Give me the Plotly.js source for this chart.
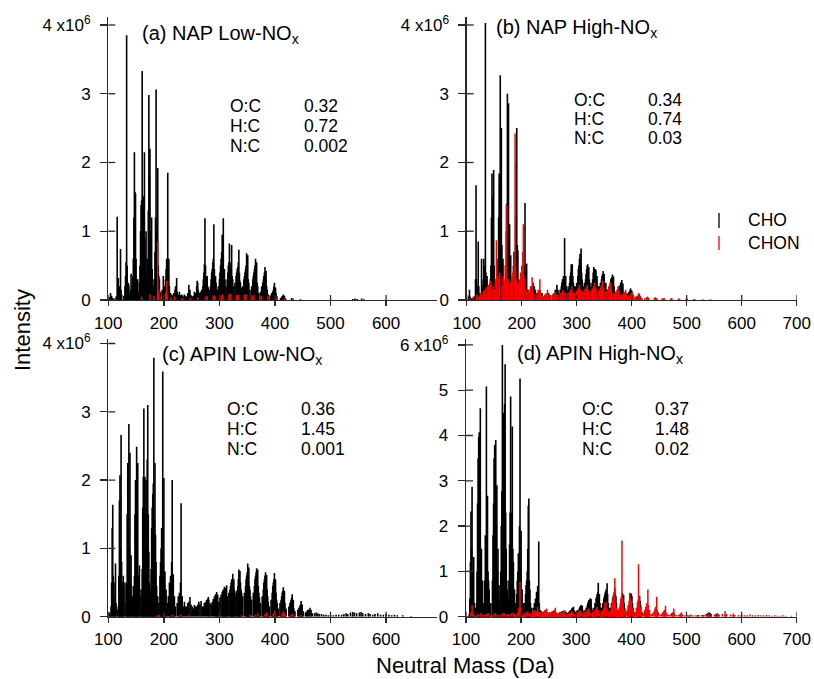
<!DOCTYPE html>
<html>
<head>
<meta charset="utf-8">
<script src="https://cdn.plot.ly/plotly-3.0.1.min.js"></script>
<style>html,body{margin:0;padding:0;background:#fff;}#chart{width:814px;height:679px;}</style>
</head>
<body>
<div id="chart"></div>
<script>
// ---------- DATA (masses in Da, intensities in units of 10^6) ----------
const panelTitles = ["(a) NAP Low-NO<sub>x</sub>", "(b) NAP High-NO<sub>x</sub>", "(c) APIN Low-NO<sub>x</sub>", "(d) APIN High-NO<sub>x</sub>"];
const ratioLabels = ["O:C", "H:C", "N:C"];
const ratioA = ["0.32", "0.72", "0.002"];
const ratioB = ["0.34", "0.74", "0.03"];
const ratioC = ["0.36", "1.45", "0.001"];
const ratioD = ["0.37", "1.48", "0.02"];
const seriesNames = ["CHO", "CHON"];
const xTicksShort = [100, 200, 300, 400, 500, 600];
const xTicksLong = [100, 200, 300, 400, 500, 600, 700];
const yTicks4 = [0, 1, 2, 3, 4];
const yTicks6 = [0, 1, 2, 3, 4, 5, 6];
const yText4 = ["0", "1", "2", "3", "4 x10<sup>6</sup>"];
const yText6 = ["0", "1", "2", "3", "4", "5", "6 x10<sup>6</sup>"];

// (a) NAP Low-NOx
const aChoM = [102,104,106,108,110,114,116,117,118,119,120,122,123,124,128,130,131,132,133,134,135,136,137,138,140,141,143,144,145,146,147,148,149,150,151,152,153,154,156,157,158,159,160,161,162,163,164,165,166,167,168,169,170,171,172,173,174,175,176,177,178,179,180,181,183,184,185,186,187,188,189,190,191,192,194,197,199,201,203,204,205,206,207,208,209,210,212,214,216,218,220,221,222,223,224,226,228,230,232,233,235,237,239,241,243,245,246,247,249,251,253,255,257,259,260,261,262,264,266,268,270,271,272,273,274,275,276,277,278,279,280,282,284,285,286,287,288,289,290,291,292,293,294,296,298,300,301,302,303,304,305,306,307,308,309,310,312,314,315,316,317,318,319,320,321,322,323,324,326,328,330,331,332,333,334,335,336,337,338,340,342,344,345,346,347,348,349,350,351,352,353,355,358,360,361,362,363,364,365,366,367,368,369,371,374,376,378,379,380,381,382,383,384,385,386,388,392,394,396,397,398,399,400,401,402,404,410,412,414,415,416,417,419,430,432,446,540,544,548,556,560];
const aChoI = [0.04,0.1,0.06,0.03,0.02,0.05,1.21,0.3,0.32,0.15,0.2,0.74,0.15,0.08,0.06,0.2,0.35,0.55,3.85,0.5,0.22,0.25,0.22,0.1,0.15,0.38,0.2,0.35,0.6,1.2,2.15,1.57,1.55,0.6,0.3,0.25,0.3,0.12,0.25,0.5,1.0,1.38,1.45,3.33,1.52,1.5,1.0,2.15,0.9,0.6,1.0,0.35,0.3,0.6,1.3,2.98,1.8,2.2,1.0,0.9,1.2,0.45,0.3,0.2,0.3,0.7,1.2,3.06,1.0,0.8,1.92,0.5,0.35,0.3,0.12,0.15,0.35,0.2,0.3,0.45,0.6,0.4,1.85,0.45,0.6,0.2,0.1,0.08,0.07,0.1,0.15,0.2,0.12,0.32,0.12,0.08,0.12,0.07,0.08,0.07,0.05,0.08,0.06,0.05,0.1,0.22,0.1,0.15,0.07,0.05,0.06,0.12,0.1,0.2,0.28,0.25,0.15,0.1,0.12,0.15,0.2,0.3,0.4,0.52,1.19,0.5,0.35,0.3,0.35,0.2,0.18,0.15,0.2,0.3,0.4,0.45,0.55,0.6,1.1,0.45,0.35,0.35,0.25,0.15,0.2,0.3,0.4,0.5,0.6,0.7,0.95,0.6,1.19,0.45,0.45,0.3,0.2,0.3,0.4,0.5,0.55,0.82,0.5,0.45,0.55,0.8,0.35,0.3,0.2,0.25,0.35,0.4,0.45,0.48,0.55,0.73,0.4,0.28,0.25,0.18,0.2,0.3,0.35,0.4,0.45,0.5,0.68,0.45,0.65,0.3,0.25,0.15,0.2,0.3,0.35,0.4,0.45,0.5,0.6,0.4,0.55,0.25,0.2,0.1,0.12,0.2,0.25,0.3,0.35,0.4,0.48,0.35,0.42,0.2,0.15,0.08,0.07,0.1,0.12,0.15,0.2,0.25,0.15,0.18,0.1,0.05,0.03,0.05,0.06,0.08,0.05,0.06,0.03,0.03,0.02,0.01,0.015,0.02,0.015,0.02,0.01];
const aChonM = [160,175,182,189,190,191,195,203,205,206,213,219,233,247,261,275,278,289,292,303,306,317,320,331,334,345,348,359,362,373,376,387,390,401,404,418,432];
const aChonI = [0.05,0.08,0.06,0.85,0.15,0.1,0.05,0.1,0.28,0.08,0.04,0.05,0.03,0.03,0.04,0.05,0.06,0.06,0.07,0.07,0.08,0.08,0.09,0.07,0.08,0.08,0.08,0.07,0.07,0.06,0.06,0.05,0.05,0.04,0.04,0.03,0.02];

// (b) NAP High-NOx
const bChoM = [104,105,106,108,110,114,116,117,118,119,120,121,122,124,127,128,130,131,132,133,134,135,136,137,139,141,143,144,145,146,147,148,149,150,151,153,156,157,158,159,160,161,162,163,164,165,166,167,169,171,172,173,174,175,176,177,178,179,180,181,184,185,186,187,189,190,191,192,193,194,195,199,201,203,205,206,207,208,209,211,214,216,218,219,221,223,225,228,231,233,235,237,239,242,245,247,249,252,256,259,261,262,264,265,266,268,270,272,273,274,275,276,277,278,279,280,282,284,286,287,288,289,290,291,292,293,294,296,298,300,302,303,304,305,306,307,308,309,310,312,314,316,317,318,319,320,321,322,323,324,326,328,329,330,331,332,333,334,335,336,337,339,341,343,345,346,347,348,349,350,351,353,355,357,359,361,362,363,364,365,366,367,368,370,373,375,377,379,380,381,382,383,384,385,387,391,393,395,397,398,399,400,402,408,410,412,414,416,418,428,430,445,500];
const bChoI = [0.05,0.15,0.05,0.03,0.03,0.05,0.3,1.67,0.3,0.15,0.2,0.85,0.2,0.1,0.6,0.2,0.3,0.6,0.35,0.5,4.03,0.4,0.3,0.35,0.15,0.2,0.3,0.5,1.2,1.84,1.5,1.0,1.89,0.5,0.3,0.2,0.3,0.6,1.2,1.84,1.65,3.27,1.65,2.5,0.8,0.5,0.6,0.3,0.2,0.5,1.0,1.4,3.0,1.3,2.86,0.7,1.1,0.4,0.65,0.2,0.3,0.5,0.7,0.6,1.2,2.0,2.5,0.8,0.72,0.3,0.2,0.2,0.3,0.4,0.5,1.41,0.4,0.3,0.53,0.15,0.1,0.15,0.2,0.15,0.25,0.2,0.15,0.1,0.12,0.15,0.1,0.1,0.05,0.07,0.1,0.08,0.1,0.07,0.08,0.1,0.15,0.12,0.22,0.1,0.15,0.1,0.15,0.2,0.25,0.3,0.3,0.35,0.3,0.9,0.3,0.35,0.2,0.15,0.2,0.25,0.35,0.4,0.52,0.45,0.52,0.35,0.25,0.2,0.2,0.25,0.35,0.45,0.5,0.6,0.67,0.55,0.75,0.4,0.3,0.2,0.25,0.3,0.38,0.45,0.5,0.52,0.4,0.48,0.3,0.25,0.2,0.25,0.3,0.4,0.48,0.45,0.38,0.45,0.43,0.3,0.35,0.2,0.2,0.25,0.3,0.35,0.38,0.42,0.3,0.38,0.25,0.25,0.15,0.15,0.2,0.25,0.3,0.32,0.33,0.37,0.3,0.34,0.2,0.12,0.1,0.15,0.2,0.22,0.25,0.26,0.29,0.2,0.24,0.12,0.08,0.06,0.1,0.12,0.15,0.17,0.12,0.14,0.06,0.04,0.05,0.07,0.08,0.05,0.03,0.02,0.03,0.02,0.01];
const bChonM = [106,112,118,122,125,128,130,132,135,138,140,142,144,146,148,150,152,154,155,157,159,160,164,166,168,170,172,173,175,177,180,182,184,186,188,189,191,194,196,198,200,202,203,204,206,208,210,213,216,219,220,222,226,230,233,234,238,242,245,247,249,252,256,259,261,263,266,270,273,275,277,280,284,287,289,291,293,296,299,301,303,305,307,310,313,315,317,319,321,324,327,329,331,333,335,338,341,343,345,347,349,352,355,357,359,361,363,366,369,371,373,375,377,380,383,385,387,389,391,394,397,399,401,403,406,410,413,415,418,424,427,429,431,441,443,445,455,457,459,471,473,485,487,499,501,513,515,529,543];
const bChonI = [0.03,0.05,0.08,0.05,0.1,0.08,0.12,0.15,0.18,0.2,0.22,0.25,0.28,0.15,0.2,0.15,0.3,0.87,0.2,0.35,0.3,0.4,0.2,0.35,0.3,0.5,1.38,0.4,0.3,0.3,0.25,0.35,0.4,0.6,2.42,0.5,0.3,0.25,0.3,0.4,0.5,0.7,1.1,0.35,0.3,0.15,0.12,0.15,0.2,0.33,0.15,0.1,0.08,0.15,0.3,0.12,0.06,0.08,0.1,0.15,0.07,0.06,0.08,0.1,0.12,0.08,0.08,0.1,0.12,0.15,0.12,0.1,0.1,0.12,0.15,0.2,0.12,0.1,0.12,0.15,0.18,0.22,0.15,0.12,0.13,0.16,0.18,0.22,0.15,0.12,0.14,0.17,0.2,0.25,0.17,0.13,0.15,0.18,0.22,0.28,0.18,0.12,0.13,0.16,0.2,0.25,0.17,0.1,0.1,0.12,0.15,0.2,0.14,0.08,0.08,0.1,0.12,0.15,0.1,0.06,0.08,0.1,0.12,0.08,0.05,0.06,0.1,0.06,0.03,0.03,0.04,0.05,0.03,0.03,0.04,0.03,0.02,0.03,0.03,0.02,0.03,0.02,0.02,0.02,0.015,0.015,0.01,0.01,0.01];

// (c) APIN Low-NOx
const cChoM = [101,103,105,106,107,108,109,110,111,112,113,114,116,118,119,120,121,122,123,124,125,126,127,128,130,132,133,134,135,136,137,138,139,140,141,142,143,145,146,147,148,149,150,151,152,153,154,155,156,157,159,160,161,162,163,164,165,166,167,168,169,170,171,172,173,174,175,176,177,178,179,180,181,182,183,184,185,186,187,189,191,193,194,195,196,197,198,199,200,201,202,203,204,206,208,210,211,212,213,214,215,216,217,218,219,221,224,226,228,229,230,231,232,233,235,237,239,241,243,245,247,249,251,253,255,257,259,261,263,265,267,269,271,273,275,277,279,280,281,283,285,287,289,291,293,294,295,296,297,299,301,303,305,306,307,308,309,310,311,312,313,314,316,317,319,320,321,322,323,324,325,326,327,328,330,331,333,334,335,336,337,338,339,340,342,345,347,348,349,350,351,352,353,354,355,356,358,361,363,364,365,366,367,368,369,370,371,372,374,377,379,380,381,382,383,384,385,386,387,388,390,393,395,396,397,398,399,400,401,402,403,404,406,409,411,412,413,414,415,416,417,418,420,425,427,428,429,430,431,432,433,434,436,441,443,445,446,447,448,449,451,455,457,459,461,463,465,467,471,474,477,480,484,488,492,496,500,505,510,515,520,524,528,531,536,540,543,547,552,555,558,563,568,571,576,580,585,590,595,600,605,610,615,620,630,645];
const cChoI = [0.07,0.05,0.15,0.5,1.3,1.64,0.6,0.3,0.2,0.5,0.78,0.2,0.1,0.15,0.6,1.7,2.07,1.0,2.66,0.8,0.5,0.3,0.6,0.4,0.5,0.2,0.5,1.5,2.25,1.2,2.82,1.0,2.4,0.5,0.9,0.3,0.3,0.45,0.2,0.6,1.5,2.0,1.6,2.49,1.2,2.25,0.6,0.6,0.75,0.3,0.4,0.2,0.7,1.6,2.05,3.05,2.0,2.05,1.5,2.0,1.2,2.3,3.1,1.5,0.95,0.5,0.4,0.3,0.7,1.3,1.6,1.8,1.95,3.79,1.4,2.25,1.2,0.8,0.45,0.3,0.2,0.6,0.8,1.0,1.3,1.0,3.59,0.8,2.03,0.5,0.66,0.3,0.4,0.2,0.3,0.5,0.4,0.6,0.5,0.8,2.0,0.5,0.62,0.3,0.3,0.15,0.2,0.3,0.35,0.3,0.5,1.66,0.3,0.3,0.15,0.22,0.15,0.15,0.2,0.22,0.29,0.18,0.15,0.12,0.17,0.15,0.15,0.18,0.22,0.18,0.23,0.15,0.15,0.2,0.22,0.25,0.26,0.29,0.25,0.2,0.18,0.22,0.26,0.3,0.33,0.32,0.36,0.3,0.32,0.22,0.28,0.32,0.36,0.38,0.4,0.35,0.44,0.4,0.42,0.38,0.46,0.3,0.25,0.35,0.4,0.45,0.5,0.55,0.5,0.63,0.5,0.55,0.4,0.35,0.3,0.38,0.45,0.55,0.69,0.55,0.67,0.5,0.4,0.35,0.3,0.35,0.45,0.55,0.6,0.65,0.78,0.6,0.72,0.45,0.4,0.3,0.25,0.35,0.45,0.55,0.6,0.65,0.71,0.6,0.69,0.45,0.35,0.28,0.2,0.3,0.4,0.5,0.55,0.6,0.65,0.55,0.61,0.4,0.3,0.22,0.15,0.25,0.35,0.45,0.5,0.55,0.64,0.5,0.55,0.35,0.25,0.2,0.12,0.2,0.25,0.3,0.35,0.38,0.43,0.3,0.38,0.2,0.12,0.15,0.2,0.22,0.25,0.28,0.33,0.2,0.25,0.12,0.08,0.1,0.13,0.16,0.18,0.23,0.15,0.18,0.08,0.06,0.08,0.1,0.1,0.13,0.1,0.05,0.05,0.06,0.05,0.04,0.04,0.03,0.03,0.02,0.02,0.02,0.03,0.03,0.03,0.04,0.05,0.04,0.06,0.07,0.06,0.05,0.06,0.07,0.05,0.04,0.05,0.04,0.03,0.04,0.05,0.03,0.03,0.04,0.03,0.02,0.03,0.02,0.02,0.01];
const cChonM = [190,200,215,230,245,340,355,365,369,382,385,397,399,401,413,415,417,429,431,447,463];
const cChonI = [0.03,0.04,0.03,0.03,0.02,0.02,0.03,0.03,0.05,0.04,0.06,0.05,0.09,0.06,0.05,0.08,0.05,0.03,0.04,0.02,0.015];

// (d) APIN High-NOx
const dChoM = [106,107,108,109,110,111,112,113,114,115,117,119,120,121,122,123,124,125,126,127,128,129,130,131,133,134,135,136,137,138,139,140,141,142,143,145,148,149,150,151,152,153,154,155,156,157,158,159,160,162,163,164,165,166,167,168,169,170,171,172,173,174,175,177,178,179,180,181,182,183,184,185,186,187,188,190,192,193,194,195,196,197,198,199,200,201,202,204,207,208,209,210,211,212,213,214,215,216,217,219,222,224,226,228,229,230,231,232,233,235,237,240,242,244,246,248,250,252,254,256,258,260,262,264,266,268,270,272,274,276,278,280,282,284,286,288,290,292,293,294,295,296,298,300,302,304,306,307,308,309,310,311,312,314,316,318,320,321,322,323,324,325,326,327,328,330,332,334,336,337,338,339,340,341,342,343,344,346,348,350,351,352,353,354,355,356,357,358,360,362,364,366,367,368,369,370,371,372,373,375,378,380,382,383,384,385,386,387,388,390,394,396,397,398,399,400,401,402,403,405,409,411,412,413,414,415,416,417,419,425,427,429,430,431,433,445,447,460,476,490,505,520,530,536,539,541,543,545,552,555,558,570,585,600];
const dChoI = [0.06,0.4,1.2,2.32,1.5,2.87,1.0,0.6,1.32,0.3,0.2,0.3,1.0,2.5,3.5,3.97,4.07,2.0,4.6,1.2,1.5,0.5,0.8,0.3,0.3,0.8,1.8,1.77,5.08,2.0,2.67,1.0,0.8,0.6,0.3,0.3,0.8,1.8,2.5,3.5,3.79,3.2,3.9,2.0,2.9,1.0,1.5,0.5,0.7,0.3,1.0,2.0,2.77,6.0,3.0,4.5,2.8,4.7,5.57,2.3,1.5,0.8,0.6,0.4,0.8,1.6,2.3,4.86,2.2,2.3,4.2,1.5,1.2,0.5,0.6,0.3,0.5,0.8,1.0,1.4,1.21,2.0,5.26,1.0,1.9,0.5,0.6,0.3,0.3,0.5,0.7,0.8,1.0,1.5,2.45,2.61,0.8,0.6,0.3,0.2,0.2,0.3,0.4,0.55,0.4,0.68,0.4,1.66,0.3,0.15,0.12,0.1,0.12,0.15,0.14,0.1,0.08,0.1,0.08,0.1,0.12,0.12,0.1,0.08,0.07,0.08,0.1,0.1,0.12,0.12,0.1,0.12,0.1,0.08,0.1,0.13,0.15,0.18,0.2,0.18,0.22,0.15,0.1,0.12,0.14,0.16,0.2,0.22,0.24,0.26,0.22,0.24,0.15,0.1,0.15,0.2,0.25,0.3,0.33,0.37,0.35,0.41,0.3,0.39,0.2,0.15,0.2,0.3,0.4,0.45,0.5,0.55,0.75,0.5,0.5,0.3,0.2,0.2,0.3,0.4,0.45,0.5,0.55,0.6,0.5,0.74,0.5,0.3,0.2,0.2,0.3,0.4,0.45,0.5,0.55,0.63,0.5,0.45,0.3,0.15,0.15,0.25,0.35,0.4,0.52,0.45,0.48,0.3,0.2,0.1,0.12,0.25,0.35,0.45,0.52,0.5,0.45,0.3,0.2,0.1,0.1,0.2,0.28,0.35,0.4,0.46,0.35,0.25,0.1,0.05,0.08,0.12,0.15,0.1,0.05,0.04,0.05,0.03,0.02,0.02,0.02,0.03,0.04,0.06,0.08,0.1,0.08,0.06,0.05,0.06,0.05,0.04,0.03,0.02];
const dChonM = [109,111,112,114,118,121,124,127,130,134,137,140,143,146,150,153,156,160,164,167,170,174,177,180,183,186,188,191,194,196,198,199,201,204,207,210,212,214,217,220,222,224,226,228,230,232,234,236,238,240,242,244,246,248,250,252,254,256,258,260,262,264,266,268,270,272,274,276,278,280,283,286,288,290,292,294,297,300,302,304,306,308,311,314,316,318,320,322,324,327,330,332,334,336,338,340,343,346,348,350,352,354,356,359,362,364,366,367,368,369,370,371,373,376,378,380,381,382,383,384,385,386,388,392,394,396,397,398,399,400,402,404,407,409,411,412,413,414,415,417,419,422,424,426,428,430,431,433,436,439,441,443,444,446,447,449,452,455,457,459,460,462,463,465,468,471,473,475,477,478,481,485,487,489,491,493,497,501,505,508,512,517,522,527,532,537,541,545,551,556,559,565,570,573,580,585,588,595,600,605,610,615,620,625,630,635,640,645,650,655,660,665,670,675,680,690];
const dChonI = [0.1,0.26,0.1,0.05,0.03,0.06,0.05,0.08,0.04,0.05,0.06,0.08,0.05,0.04,0.06,0.08,0.05,0.04,0.06,0.08,0.07,0.05,0.06,0.05,0.08,0.1,0.06,0.05,0.1,0.2,0.77,0.2,0.1,0.06,0.08,0.1,0.12,0.08,0.06,0.1,0.12,0.15,0.1,0.12,0.22,0.1,0.08,0.12,0.1,0.1,0.12,0.15,0.18,0.1,0.08,0.1,0.09,0.12,0.1,0.15,0.2,0.1,0.07,0.08,0.07,0.08,0.1,0.12,0.15,0.08,0.06,0.07,0.08,0.1,0.12,0.1,0.06,0.08,0.1,0.12,0.15,0.12,0.08,0.08,0.1,0.12,0.15,0.18,0.12,0.08,0.1,0.13,0.15,0.18,0.22,0.15,0.1,0.12,0.15,0.2,0.3,0.33,0.2,0.12,0.15,0.25,0.35,0.4,0.5,0.45,0.85,0.3,0.2,0.15,0.2,0.3,0.4,0.45,1.68,0.4,0.35,0.2,0.12,0.15,0.25,0.35,0.53,0.4,0.3,0.35,0.2,0.12,0.1,0.2,0.3,0.35,1.16,0.45,0.3,0.2,0.1,0.08,0.15,0.22,0.3,0.6,0.25,0.15,0.06,0.08,0.12,0.18,0.22,0.44,0.15,0.1,0.05,0.06,0.1,0.12,0.15,0.24,0.1,0.06,0.04,0.05,0.08,0.1,0.18,0.08,0.04,0.04,0.05,0.07,0.1,0.05,0.03,0.04,0.04,0.05,0.03,0.03,0.04,0.03,0.04,0.05,0.08,0.05,0.05,0.08,0.05,0.06,0.12,0.06,0.05,0.07,0.04,0.04,0.05,0.03,0.03,0.05,0.03,0.03,0.04,0.03,0.03,0.04,0.03,0.02,0.03,0.02,0.02,0.03,0.02,0.02];

// ---------- RENDERING ----------
const W = 814, H = 679;
const FONT = "Liberation Sans, Arial, Helvetica, sans-serif";
const fx = px => px / W;
const fy = py => 1 - py / H;

function sticks(ms, is) {
  const x = [], y = [];
  for (let k = 0; k < ms.length; k++) { x.push(ms[k], ms[k], null); y.push(0, is[k], null); }
  return {x, y};
}

const panels = [
  {cho: [aChoM, aChoI], chon: [aChonM, aChonI], ratios: ratioA, xt: xTicksShort, yt: yTicks4, ytt: yText4,
   xd: [108.3, 437.2], xr: [100, 692], yd: [300, 17], yr: [0, 4.116],
   title: [139.5, 34], lab: [228, 301.5], rows: [106, 126, 146]},
  {cho: [bChoM, bChoI], chon: [bChonM, bChonI], ratios: ratioB, xt: xTicksLong, yt: yTicks4, ytt: yText4,
   xd: [466.7, 796.7], xr: [100, 700], yd: [300, 17], yr: [0, 4.116],
   title: [494, 29], lab: [572, 645.5], rows: [99.5, 119, 138.5]},
  {cho: [cChoM, cChoI], chon: [cChonM, cChonI], ratios: ratioC, xt: xTicksShort, yt: yTicks4, ytt: yText4,
   xd: [108.3, 437.2], xr: [100, 692], yd: [616.7, 339], yr: [0, 4.066],
   title: [160, 355.5], lab: [225, 298.5], rows: [409, 429, 449]},
  {cho: [dChoM, dChoI], chon: [dChonM, dChonI], ratios: ratioD, xt: xTicksLong, yt: yTicks6, ytt: yText6,
   xd: [466, 796.7], xr: [100, 700], yd: [616.7, 339], yr: [0, 6.13],
   title: [515, 354], lab: [580, 652.5], rows: [409, 429, 449]}
];

const traces = [], shapes = [], annotations = [];
const layout = {
  width: W, height: H, margin: {l: 0, r: 0, t: 0, b: 0},
  paper_bgcolor: "#fff", plot_bgcolor: "rgba(0,0,0,0)", showlegend: false,
  font: {family: FONT, size: 17, color: "#000"}
};
const AX = "#2a2a2a";
const XT = 5, YT = 7; // tick half-lengths (px) on each side of the axis line

panels.forEach((p, i) => {
  const n = i + 1, xs = n === 1 ? "x" : "x" + n, ys = n === 1 ? "y" : "y" + n;
  const s1 = sticks(p.cho[0], p.cho[1]);
  const s2 = sticks(p.chon[0], p.chon[1]);
  traces.push({type: "scatter", mode: "lines", x: s1.x, y: s1.y, xaxis: xs, yaxis: ys, name: seriesNames[0],
    line: {color: "#000000", width: 1.6}, hoverinfo: "skip", connectgaps: false});
  traces.push({type: "scatter", mode: "lines", x: s2.x, y: s2.y, xaxis: xs, yaxis: ys, name: seriesNames[1],
    line: {color: "#ff0000", width: 1.5}, hoverinfo: "skip", connectgaps: false});
  layout[n === 1 ? "xaxis" : "xaxis" + n] = {
    domain: [fx(p.xd[0]), fx(p.xd[1])], range: p.xr, anchor: ys,
    tickmode: "array", tickvals: p.xt, ticktext: p.xt.map(String),
    ticks: "outside", ticklen: XT, tickwidth: 1.3, tickcolor: AX,
    showline: true, linecolor: AX, linewidth: 1.3, showgrid: false, zeroline: false,
    tickfont: {family: FONT, size: 17, color: "#000"}, ticklabelstandoff: 2, fixedrange: true
  };
  layout[n === 1 ? "yaxis" : "yaxis" + n] = {
    domain: [fy(p.yd[0]), fy(p.yd[1])], range: p.yr, anchor: xs,
    tickmode: "array", tickvals: p.yt, ticktext: p.ytt,
    ticks: "outside", ticklen: YT, tickwidth: 1.3, tickcolor: AX,
    showline: true, linecolor: AX, linewidth: 1.3, showgrid: false, zeroline: false,
    tickfont: {family: FONT, size: 17, color: "#000"}, ticklabelstandoff: 6, fixedrange: true
  };
  // inside halves of the crossing tick marks
  const hpx = p.yd[0] - p.yd[1], wpx = p.xd[1] - p.xd[0];
  p.xt.forEach(v => shapes.push({type: "line", xref: xs, yref: ys + " domain", x0: v, x1: v, y0: 0, y1: XT / hpx,
    line: {color: AX, width: 1.3}}));
  p.yt.forEach(v => shapes.push({type: "line", xref: xs + " domain", yref: ys, x0: 0, x1: YT / wpx, y0: v, y1: v,
    line: {color: AX, width: 1.3}}));
  // panel title
  annotations.push({xref: "paper", yref: "paper", x: fx(p.title[0]), y: fy(p.title[1]), xanchor: "left", yanchor: "middle",
    text: panelTitles[i], showarrow: false, font: {family: FONT, size: 20, color: "#000"}});
  // ratio block
  ratioLabels.forEach((lab, r) => {
    annotations.push({xref: "paper", yref: "paper", x: fx(p.lab[0]), y: fy(p.rows[r]), xanchor: "left", yanchor: "middle",
      text: lab, showarrow: false, font: {family: FONT, size: 17.5, color: "#000"}});
    annotations.push({xref: "paper", yref: "paper", x: fx(p.lab[1]), y: fy(p.rows[r]), xanchor: "left", yanchor: "middle",
      text: p.ratios[r], showarrow: false, font: {family: FONT, size: 17.5, color: "#000"}});
  });
});

// legend (panel b)
shapes.push({type: "line", xref: "paper", yref: "paper", x0: fx(719), x1: fx(719), y0: fy(213), y1: fy(228), line: {color: "#000", width: 1.3}});
shapes.push({type: "line", xref: "paper", yref: "paper", x0: fx(719), x1: fx(719), y0: fy(236), y1: fy(250), line: {color: "#ff0000", width: 1.3}});
annotations.push({xref: "paper", yref: "paper", x: fx(746), y: fy(220), xanchor: "left", yanchor: "middle", text: seriesNames[0], showarrow: false, font: {family: FONT, size: 17.5, color: "#000"}});
annotations.push({xref: "paper", yref: "paper", x: fx(746), y: fy(243), xanchor: "left", yanchor: "middle", text: seriesNames[1], showarrow: false, font: {family: FONT, size: 17.5, color: "#000"}});

// shared axis titles
annotations.push({xref: "paper", yref: "paper", x: fx(465), y: fy(665), xanchor: "center", yanchor: "middle", text: "Neutral Mass (Da)", showarrow: false, font: {family: FONT, size: 22, color: "#000"}});
annotations.push({xref: "paper", yref: "paper", x: fx(22), y: fy(330), xanchor: "center", yanchor: "middle", textangle: -90, text: "Intensity", showarrow: false, font: {family: FONT, size: 22, color: "#000"}});

layout.shapes = shapes;
layout.annotations = annotations;
Plotly.newPlot("chart", traces, layout, {staticPlot: true, displayModeBar: false});
</script>
</body>
</html>
